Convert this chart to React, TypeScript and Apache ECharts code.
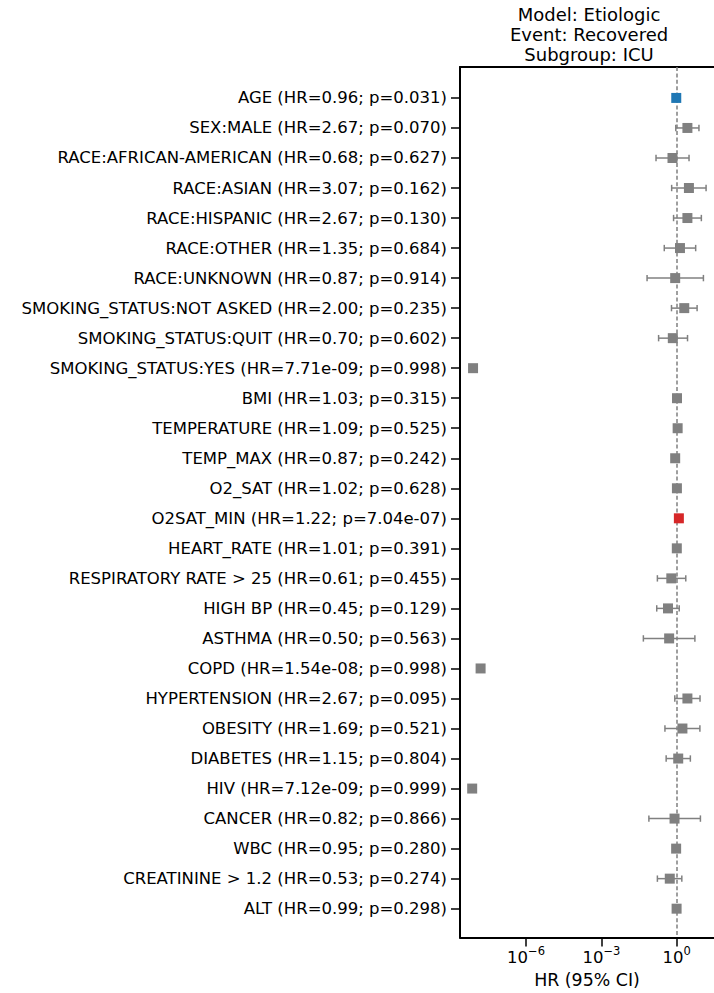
import React, { useEffect, useRef } from 'react';
import * as echarts from 'echarts';

const variables = [
  'AGE', 'SEX:MALE', 'RACE:AFRICAN-AMERICAN', 'RACE:ASIAN', 'RACE:HISPANIC', 'RACE:OTHER',
  'RACE:UNKNOWN', 'SMOKING_STATUS:NOT ASKED', 'SMOKING_STATUS:QUIT', 'SMOKING_STATUS:YES',
  'BMI', 'TEMPERATURE', 'TEMP_MAX', 'O2_SAT', 'O2SAT_MIN', 'HEART_RATE',
  'RESPIRATORY RATE > 25', 'HIGH BP', 'ASTHMA', 'COPD', 'HYPERTENSION', 'OBESITY',
  'DIABETES', 'HIV', 'CANCER', 'WBC', 'CREATININE > 1.2', 'ALT',
];
const hazardRatios = [
  0.96, 2.67, 0.68, 3.07, 2.67, 1.35, 0.87, 2.0, 0.7, 7.71e-9,
  1.03, 1.09, 0.87, 1.02, 1.22, 1.01, 0.61, 0.45, 0.5, 1.54e-8,
  2.67, 1.69, 1.15, 7.12e-9, 0.82, 0.95, 0.53, 0.99,
];
const pValues = [
  0.031, 0.07, 0.627, 0.162, 0.13, 0.684, 0.914, 0.235, 0.602, 0.998,
  0.315, 0.525, 0.242, 0.628, 7.04e-7, 0.391, 0.455, 0.129, 0.563, 0.998,
  0.095, 0.521, 0.804, 0.999, 0.866, 0.28, 0.274, 0.298,
];
const ciLower = [
  0.925, 0.92, 0.15, 0.63, 0.75, 0.32, 0.066, 0.62, 0.19, null,
  0.97, 0.84, 0.69, 0.98, 1.13, 0.99, 0.17, 0.16, 0.047, null,
  0.84, 0.34, 0.38, null, 0.078, 0.87, 0.17, 0.97,
];
const ciUpper = [
  0.996, 7.7, 3.1, 14.8, 9.6, 5.7, 11.6, 6.5, 2.7, null,
  1.09, 1.42, 1.1, 1.06, 1.32, 1.03, 2.3, 1.26, 5.3, null,
  8.5, 8.4, 3.5, null, 8.8, 1.04, 1.6, 1.01,
];
const xTickExponents = [-6, -3, 0];
const titleLines = ['Model: Etiologic', 'Event: Recovered', 'Subgroup: ICU'];
const xAxisTitle = 'HR (95% CI)';

const FONT = '"DejaVu Sans", sans-serif';

function fmtExp(v: number): string {
  const [m, e] = v.toExponential(2).split('e');
  const sign = e[0] === '-' ? '-' : '+';
  const d = e.replace(/^[+-]/, '').padStart(2, '0');
  return `${m}e${sign}${d}`;
}
function fmtHR(v: number): string {
  return v < 0.001 ? fmtExp(v) : v.toFixed(2);
}
function fmtP(v: number): string {
  return v < 0.001 ? fmtExp(v) : v.toFixed(3);
}

const rowLabels = variables.map(
  (name, i) => `${name} (HR=${fmtHR(hazardRatios[i])}; p=${fmtP(pValues[i])})`
);
const rowIndex = variables.map((_, i) => i);

function markerColor(i: number): string {
  if (pValues[i] < 0.05) return hazardRatios[i] < 1 ? '#1f77b4' : '#d62728';
  return '#808080';
}

export default function App() {
  const ref = useRef<HTMLDivElement>(null);
  useEffect(() => {
    if (!ref.current) return;
    const chart = echarts.init(ref.current, null, { renderer: 'svg' });

    const pointData = hazardRatios.map((hr, i) => ({
      value: [Math.log10(hr), i],
      itemStyle: { color: markerColor(i), opacity: 1 },
    }));
    const errData: any[] = [];
    ciLower.forEach((lo, i) => {
      const hi = ciUpper[i];
      if (lo != null && hi != null) errData.push([Math.log10(lo), Math.log10(hi), i]);
    });

    const xMin = -8.633;
    const xMax = 1.486;

    const option: any = {
      animation: false,
      backgroundColor: '#ffffff',
      textStyle: { fontFamily: FONT },
      grid: { left: 460, right: 0, top: 67, bottom: 55, containLabel: false },
      graphic: titleLines.map((t, k) => ({
        type: 'text',
        x: 589,
        y: 14.5 + k * 20.1,
        style: {
          text: t,
          fontSize: 18,
          fontFamily: FONT,
          fill: '#000',
          textAlign: 'center',
          textVerticalAlign: 'middle',
        },
      })),
      xAxis: [
        {
          type: 'value',
          position: 'bottom',
          min: xMin,
          max: xMax,
          name: xAxisTitle,
          nameLocation: 'middle',
          nameGap: 42,
          nameTextStyle: { fontSize: 17.4, color: '#000', fontFamily: FONT, verticalAlign: 'middle' },
          axisLine: { show: true, onZero: false, lineStyle: { color: '#000', width: 2 } },
          axisTick: { show: true, length: 9, lineStyle: { color: '#000', width: 1.5 }, customValues: xTickExponents },
          axisLabel: {
            customValues: xTickExponents,
            margin: 7.5,
            formatter: (v: number) => {
              const n = Math.round(v);
              const exp = n < 0 ? '\u2212' + Math.abs(n) : String(n);
              return `{b|10}{s|${exp}}`;
            },
            rich: {
              b: { fontSize: 16.5, lineHeight: 24, color: '#000', fontFamily: FONT },
              s: { fontSize: 11.5, lineHeight: 11, color: '#000', fontFamily: FONT, verticalAlign: 'top' },
            },
          },
          splitLine: { show: false },
        },
        {
          type: 'value',
          position: 'top',
          min: xMin,
          max: xMax,
          axisLine: { show: true, onZero: false, lineStyle: { color: '#000', width: 2 } },
          axisTick: { show: false },
          axisLabel: { show: false },
          splitLine: { show: false },
        },
      ],
      yAxis: {
        type: 'value',
        inverse: true,
        min: -1.03,
        max: 27.96,
        axisLine: { show: true, onZero: false, lineStyle: { color: '#000', width: 2 } },
        axisTick: { show: true, length: 9, lineStyle: { color: '#000', width: 1.5 }, customValues: rowIndex },
        axisLabel: {
          customValues: rowIndex,
          margin: 13,
          fontSize: 16.5,
          color: '#000',
          fontFamily: FONT,
          formatter: (v: number) => rowLabels[Math.round(v)] ?? '',
        },
        splitLine: { show: false },
      },
      series: [
        {
          type: 'custom',
          xAxisIndex: 0,
          yAxisIndex: 0,
          z: 2,
          encode: { x: [0, 1], y: 2 },
          data: errData,
          renderItem: (params: any, api: any) => {
            const lo = api.coord([api.value(0), api.value(2)]);
            const hi = api.coord([api.value(1), api.value(2)]);
            const y = lo[1];
            const c = 3.2;
            const st = { stroke: '#808080', lineWidth: 1.5 };
            return {
              type: 'group',
              children: [
                { type: 'line', shape: { x1: lo[0], y1: y, x2: hi[0], y2: y }, style: st },
                { type: 'line', shape: { x1: lo[0], y1: y - c, x2: lo[0], y2: y + c }, style: st },
                { type: 'line', shape: { x1: hi[0], y1: y - c, x2: hi[0], y2: y + c }, style: st },
              ],
            };
          },
        },
        {
          type: 'scatter',
          xAxisIndex: 0,
          yAxisIndex: 0,
          z: 3,
          symbol: 'rect',
          symbolSize: 10,
          itemStyle: { opacity: 1 },
          data: pointData,
          markLine: {
            silent: true,
            symbol: ['none', 'none'],
            label: { show: false },
            lineStyle: { color: '#808080', width: 1.5, type: [4, 2.4] },
            data: [{ xAxis: 0 }],
            z: 1,
          },
        },
      ],
    };
    chart.setOption(option);
    return () => chart.dispose();
  }, []);
  return (
    <div
      ref={ref}
      style={{ position: 'absolute', left: 0, top: 0, width: 714, height: 993 }}
    />
  );
}
